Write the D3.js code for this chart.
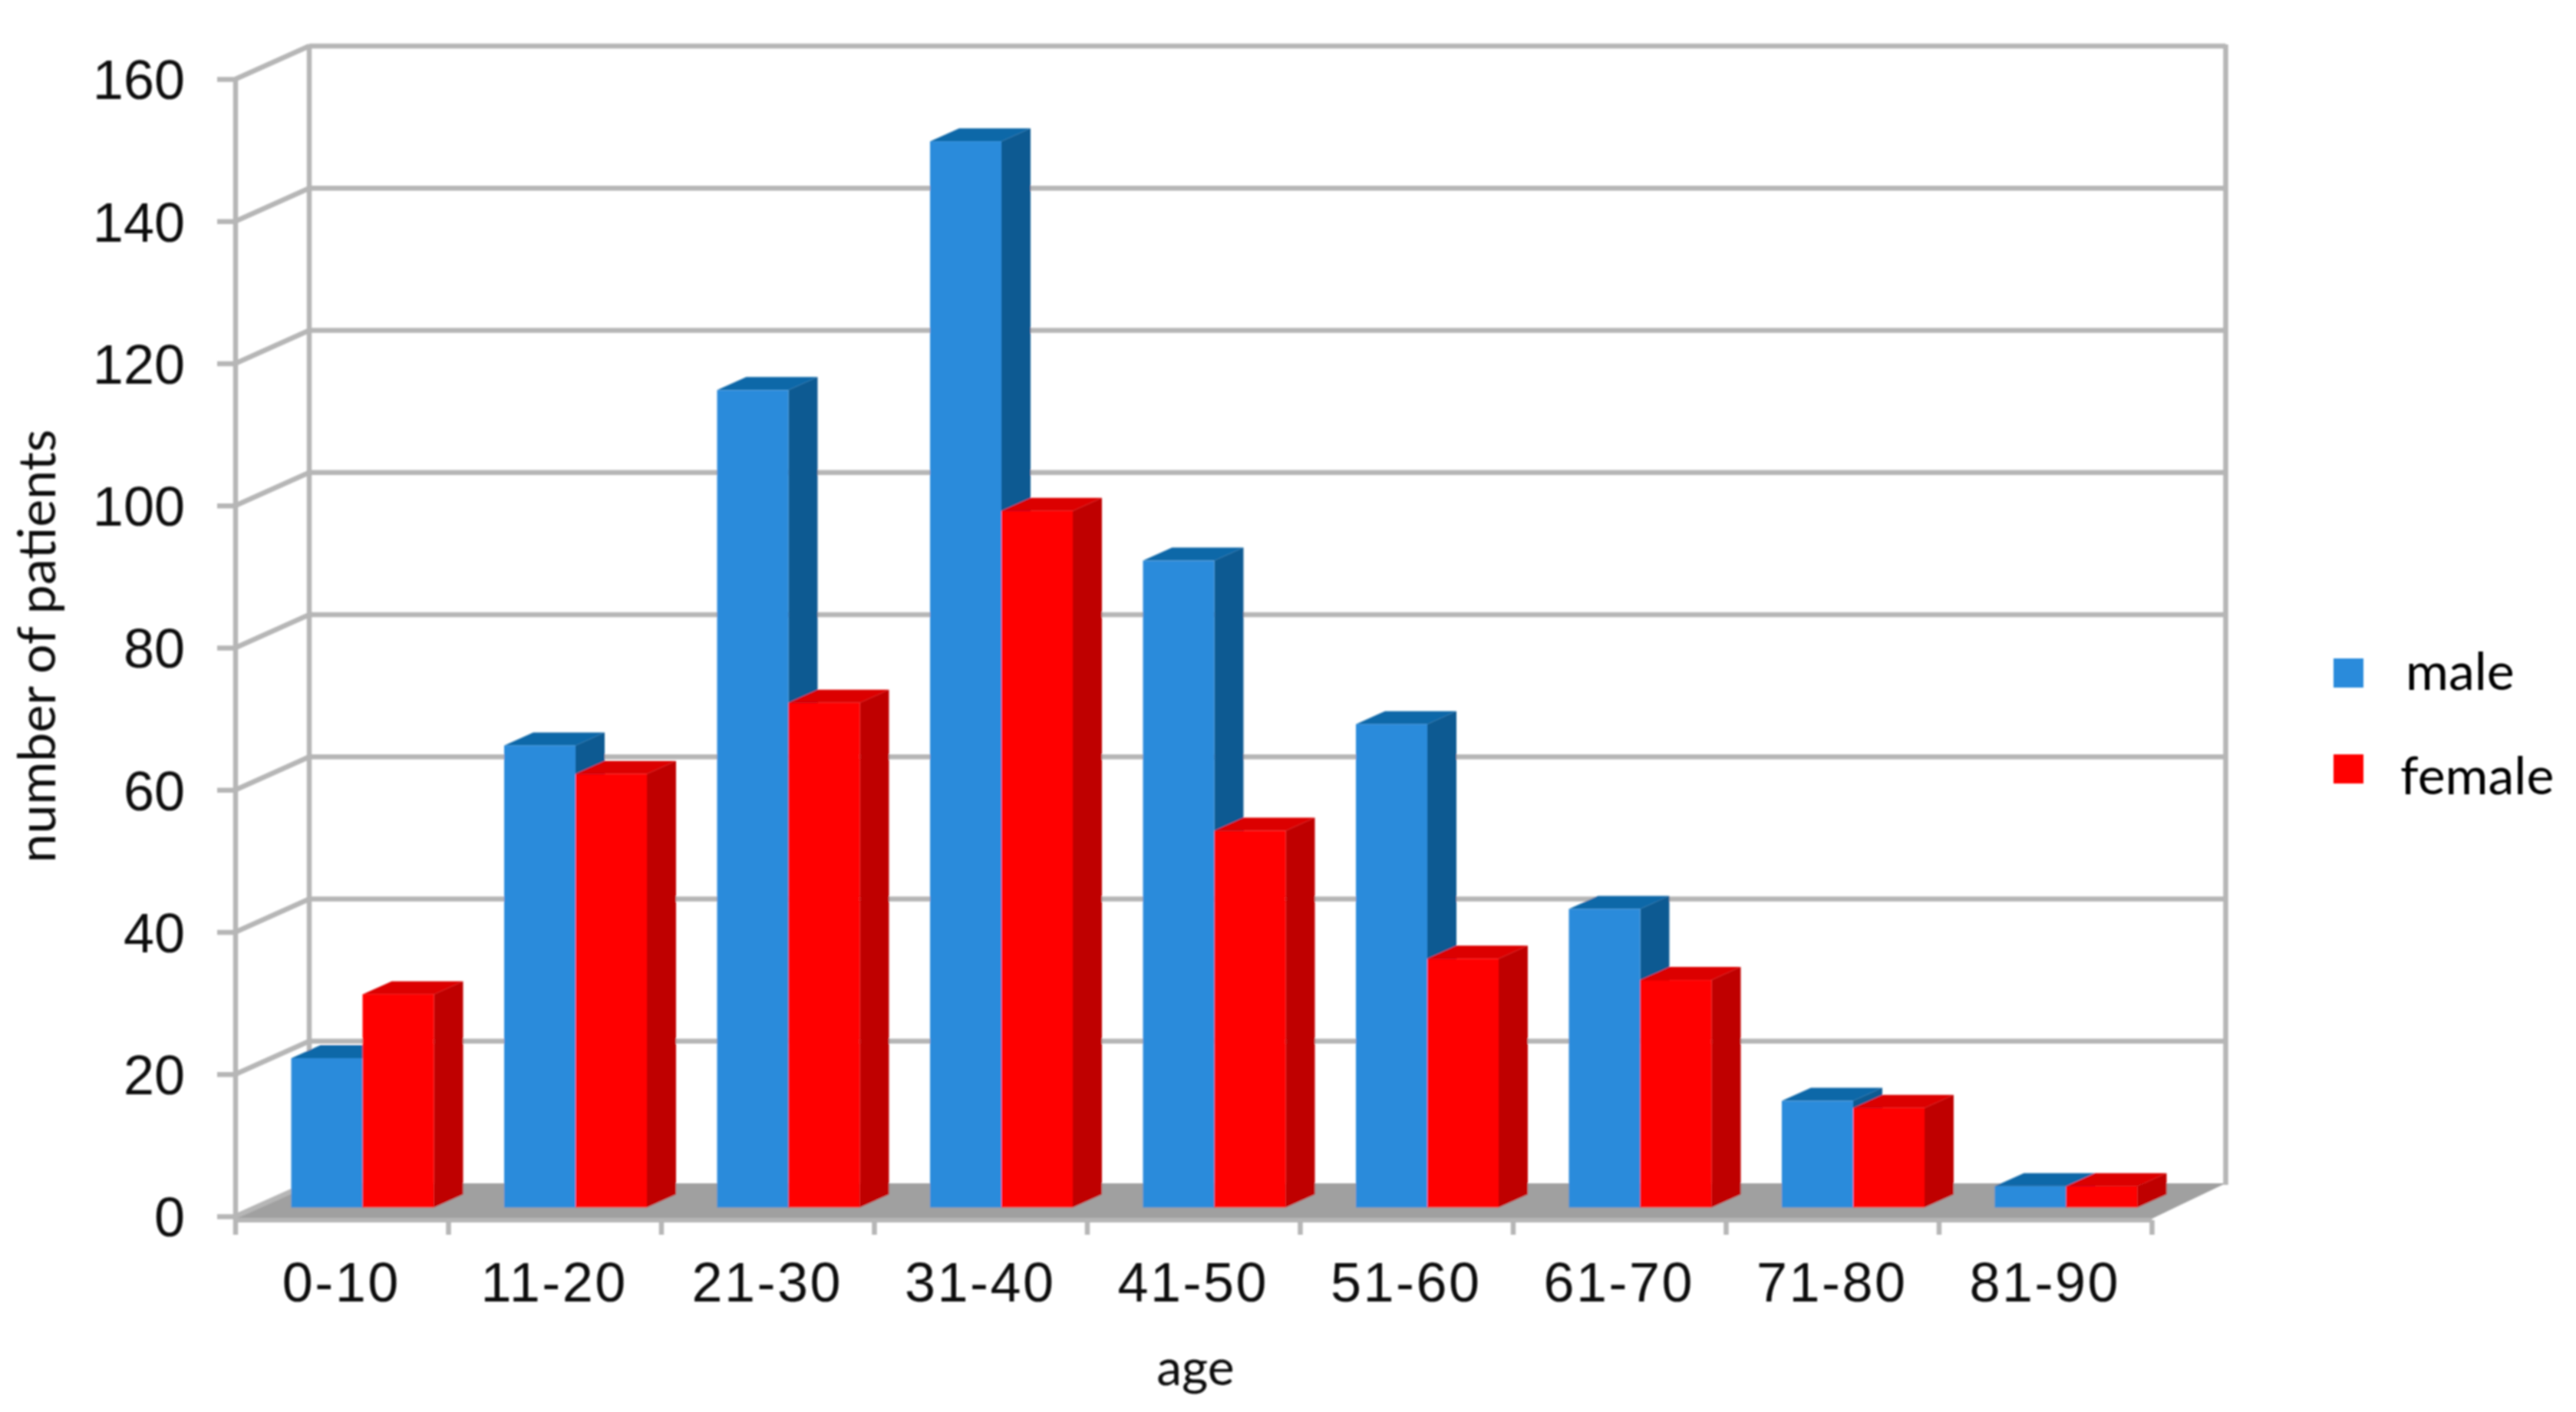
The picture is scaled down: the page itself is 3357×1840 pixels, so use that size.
<!DOCTYPE html>
<html><head><meta charset="utf-8">
<script src="https://cdn.jsdelivr.net/npm/d3@7"></script>
<style>html,body{margin:0;padding:0;background:#fff}svg{display:block}</style>
</head><body><div id="chart"></div>
<script>
const categories = ["0-10","11-20","21-30","31-40","41-50","51-60","61-70","71-80","81-90"];
const seriesNames = ["male","female"];
const maleValues = [21,65,115,150,91,68,42,15,3];
const femaleValues = [30,61,71,98,53,35,32,14,3];
const yTicks = [0,20,40,60,80,100,120,140,160];
const seriesValues = {male: maleValues, female: femaleValues};
const colors = {
  male: {front:"#2b8bdb", side:"#0e5a92", top:"#1068a8"},
  female: {front:"#ff0000", side:"#bf0000", top:"#dc0000"}
};

const W = 3357, H = 1840;
const left = 307, right = 2804.5, y0 = 1585, yTop = 103;
const wall = {dx:96, dy:-43};     // depth of the chart box
const plane = {dx:24, dy:-11.5};  // front plane of the bars
const depth = {dx:38, dy:-17};    // depth of a bar
const grid = "#b6b6b6";

const x = d3.scaleBand().domain(categories).range([left,right]);
const y = d3.scaleLinear().domain([0,160]).range([y0,yTop]);
const barW = 93;
const xs = d3.scaleBand().domain(seriesNames).range([0,barW*2]);

const svg = d3.select("#chart").append("svg").attr("width",W).attr("height",H).attr("viewBox",`0 0 ${W} ${H}`);
const defs = svg.append("defs");
defs.append("filter").attr("id","soft").attr("x","-2%").attr("y","-2%").attr("width","104%").attr("height","104%")
  .append("feGaussianBlur").attr("stdDeviation",1.2);
const root = svg.append("g").attr("filter","url(#soft)");
svg.insert("rect","g").attr("width",W).attr("height",H).attr("fill","#fff");

// Floor
root.append("polygon").attr("fill","#a0a0a0")
  .attr("points",[[left,y0+3],[right,y0+3],[right+wall.dx,y(0)+wall.dy],[left+wall.dx,y(0)+wall.dy]].join(" "));
root.append("line").attr("x1",left).attr("x2",right).attr("y1",y0+5).attr("y2",y0+5)
  .attr("stroke",grid).attr("stroke-width",6);

// Walls and gridlines
const g = root.append("g").attr("stroke",grid).attr("stroke-width",6.5).attr("fill","none");
g.selectAll(".back").data(yTicks.slice(1)).join("line")
  .attr("x1",left+wall.dx).attr("x2",right+wall.dx)
  .attr("y1",d=>y(d)+wall.dy).attr("y2",d=>y(d)+wall.dy);
g.selectAll(".diag").data(yTicks).join("line")
  .attr("x1",left).attr("x2",left+wall.dx)
  .attr("y1",d=>y(d)).attr("y2",d=>y(d)+wall.dy);
[left, left+wall.dx, right+wall.dx].forEach((vx,i)=>{
  g.append("line").attr("x1",vx).attr("x2",vx)
   .attr("y1",i===0?y(160):y(160)+wall.dy-2)
   .attr("y2",i===0?y0+24:y(0)+wall.dy+2);
});
// x ticks
g.selectAll(".xt").data(categories).join("line")
  .attr("x1",d=>x(d)+x.bandwidth()).attr("x2",d=>x(d)+x.bandwidth())
  .attr("y1",y0+5).attr("y2",y0+24);

// Y axis
const yAxis = root.append("g").attr("transform",`translate(${left},0)`)
  .call(d3.axisLeft(y).tickValues(yTicks).tickSize(24).tickPadding(42));
yAxis.select(".domain").remove();
yAxis.selectAll("line").attr("stroke",grid).attr("stroke-width",6.5);
yAxis.selectAll("text").attr("font-family","'Liberation Sans'").attr("font-size",72).attr("fill","#111").attr("dy","0.36em");

// X axis labels
const xAxis = root.append("g").attr("transform",`translate(-1,${y0})`)
  .call(d3.axisBottom(x).tickSize(0).tickPadding(60));
xAxis.select(".domain").remove();
xAxis.selectAll("text").attr("font-family","'Liberation Sans'").attr("font-size",72).attr("letter-spacing",2.5).attr("fill","#111");

// Bars
const pts = a => a.map(p=>p.join(",")).join(" ");
const groups = root.selectAll(".cat").data(categories).join("g").attr("class","cat");
groups.each(function(c,i){
  const gg = d3.select(this);
  seriesNames.forEach(s=>{
    const v = seriesValues[s][i];
    const xl = x(c)+72.5+xs(s), xr = xl+barW;
    const yt = y(v)+plane.dy, yb = y(0)+plane.dy;
    const col = colors[s];
    gg.append("polygon").attr("fill",col.side)
      .attr("points",pts([[xr,yt],[xr+depth.dx,yt+depth.dy],[xr+depth.dx,yb+depth.dy],[xr,yb]]));
    gg.append("polygon").attr("fill",col.top)
      .attr("points",pts([[xl,yt],[xl+depth.dx,yt+depth.dy],[xr+depth.dx,yt+depth.dy],[xr,yt]]));
    gg.append("rect").attr("fill",col.front).attr("x",xl).attr("y",yt).attr("width",barW).attr("height",yb-yt);
  });
});

// Axis titles
const title = "Lato, 'Open Sans', sans-serif";
root.append("text").attr("x",1558).attr("y",1805).attr("text-anchor","middle")
  .attr("font-family",title).attr("font-size",66).attr("fill","#111").text("age");
root.append("text").attr("transform","translate(72,842) rotate(-90)").attr("text-anchor","middle")
  .attr("font-family",title).attr("font-size",68).attr("fill","#111").text("number of patients");

// Legend
const legendY = d3.scalePoint().domain(seriesNames).range([877,1002]);
const legendTextX = {male:3135, female:3128};
const legendBase = {male:899, female:1035};
root.selectAll(".sw").data(seriesNames).join("rect")
  .attr("x",3041).attr("width",39).attr("height",38)
  .attr("y",d=>legendY(d)-19).attr("fill",d=>colors[d].front);
root.selectAll(".lg").data(seriesNames).join("text")
  .attr("x",d=>legendTextX[d]).attr("y",d=>legendBase[d])
  .attr("font-family",title).attr("font-size",68).attr("fill","#000").text(d=>d);
</script></body></html>
